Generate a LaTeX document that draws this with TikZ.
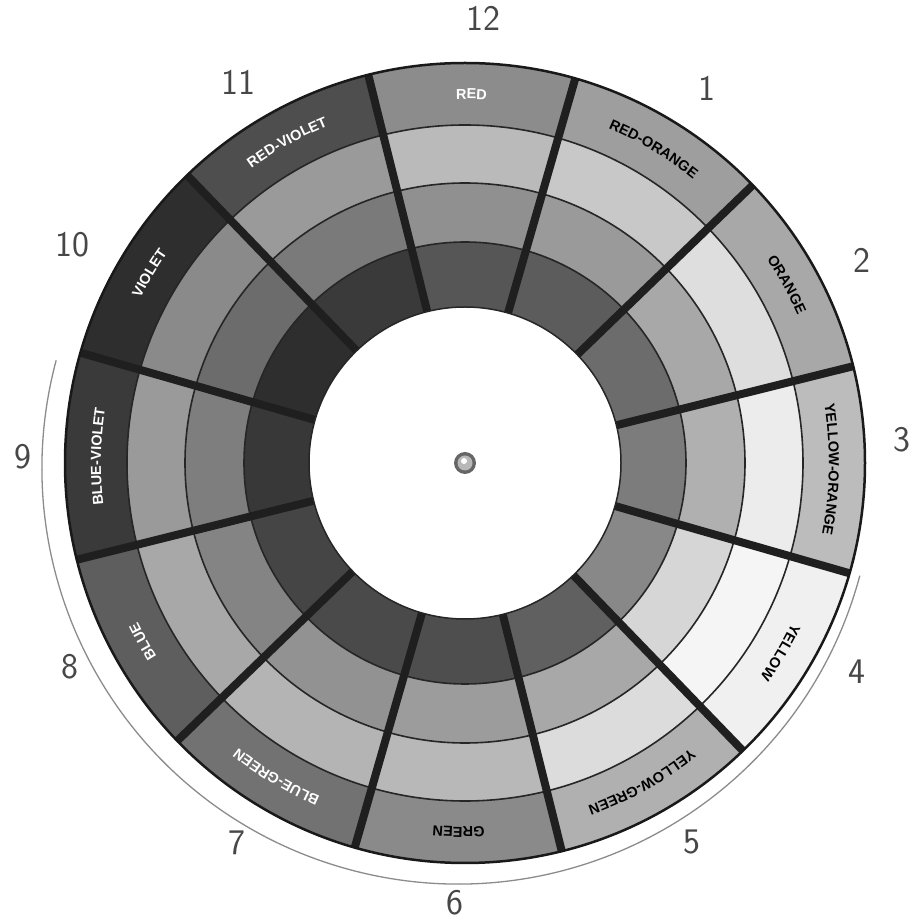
\documentclass[tikz,border=0pt]{standalone}
\usepackage{fontspec}
\setmainfont{Liberation Sans}
\usetikzlibrary{decorations.text}
\newfontfamily\lblff{Liberation Sans}
\newcommand\lblfont{\lblff\bfseries\fontsize{14.5}{15}\selectfont}
\newcommand\handfont{\sffamily\fontsize{36}{36}\selectfont}
\newcommand\seglabel[3]{%
  \pgfmathsetmacro\la{#1+16}\pgfmathsetmacro\lb{#1-16}%
  \path[decorate, decoration={text along path, text align=center,
      text={|\lblfont\color{#2}|#3}}]
    (\la:364) arc[start angle=\la, end angle=\lb, radius=364];}
\begin{document}
\begin{tikzpicture}[x=1pt,y=1pt,
  ringline/.style={line width=1.6pt, draw=black!85},
  spoke/.style={line width=8pt, draw=black!88},
  numlabel/.style={font=\handfont, text=black!72, inner sep=0pt}]
\useasboundingbox (0,0) rectangle (915,922);
\fill[white] (0,0) rectangle (915,922);
% card underneath
\draw[black!45, line width=1.3pt] (458,454) ++(165:416) arc[start angle=165, end angle=345, radius=416];
\begin{scope}[shift={(465,459)}]
  \foreach \k/\ga/\gb/\gc/\gd in {
      0/140/186/144/86, 1/158/200/154/92, 2/168/222/168/108,
      3/188/236/176/124, 4/240/245/214/136, 5/176/220/168/96,
      6/138/184/156/78, 7/114/180/146/74, 8/94/168/132/69,
      9/58/154/126/56, 10/46/138/108/46, 11/78/154/122/58} {
    \pgfmathsetmacro\ahi{104-30*\k}
    \pgfmathsetmacro\alo{74-30*\k}
    \definecolor{cA}{RGB}{\ga,\ga,\ga}
    \definecolor{cB}{RGB}{\gb,\gb,\gb}
    \definecolor{cC}{RGB}{\gc,\gc,\gc}
    \definecolor{cD}{RGB}{\gd,\gd,\gd}
    \fill[cD] (\ahi:156) arc[start angle=\ahi, end angle=\alo, radius=156]
      -- (\alo:221) arc[start angle=\alo, end angle=\ahi, radius=221] -- cycle;
    \fill[cC] (\ahi:221) arc[start angle=\ahi, end angle=\alo, radius=221]
      -- (\alo:280) arc[start angle=\alo, end angle=\ahi, radius=280] -- cycle;
    \fill[cB] (\ahi:280) arc[start angle=\ahi, end angle=\alo, radius=280]
      -- (\alo:338) arc[start angle=\alo, end angle=\ahi, radius=338] -- cycle;
    \fill[cA] (\ahi:338) arc[start angle=\ahi, end angle=\alo, radius=338]
      -- (\alo:400) arc[start angle=\alo, end angle=\ahi, radius=400] -- cycle;
  }
  \foreach \r in {221,280,338} \draw[ringline] (0,0) circle (\r);
  \foreach \k in {0,...,11} {
    \pgfmathsetmacro\ahi{104-30*\k}
    \draw[spoke] (\ahi:156) -- (\ahi:400);
  }
  \draw[black!90, line width=2.5pt] (0,0) circle (400);
  \fill[white] (0,0) circle (156);
  \draw[black!85, line width=1.5pt] (0,0) circle (156);
  % labels
  \seglabel{89}{white}{RED}
  \seglabel{59}{black}{RED-ORANGE}
  \seglabel{29}{black}{ORANGE}
  \seglabel{-1}{black}{YELLOW-ORANGE}
  \seglabel{-31}{black}{YELLOW}
  \seglabel{-61}{black}{YELLOW-GREEN}
  \seglabel{-91}{black}{GREEN}
  \seglabel{-121}{white}{BLUE-GREEN}
  \seglabel{-151}{white}{BLUE}
  \seglabel{-181}{white}{BLUE-VIOLET}
  \seglabel{-211}{white}{VIOLET}
  \seglabel{-241}{white}{RED-VIOLET}
  % grommet
  \fill[black!60] (0,0) circle (11);
  \fill[black!28] (0,0) circle (7.5);
  \fill[white] (-1,2) circle (3);
\end{scope}
% handwritten numbers
\node[numlabel] (n12) at (483,904) {12};
\node[numlabel] (n1) at (707,834) {1};
\node[numlabel] (n2) at (862,662) {2};
\node[numlabel] (n3) at (902,482) {3};
\node[numlabel] (n4) at (857,250) {4};
\node[numlabel] (n5) at (692,80) {5};
\node[numlabel] (n6) at (455,19) {6};
\node[numlabel] (n7) at (237,79) {7};
\node[numlabel] (n8) at (70,255) {8};
\node[numlabel] (n9) at (23,465) {9};
\node[numlabel] (n10) at (72,677) {10};
\node[numlabel] (n11) at (238,840) {11};
\end{tikzpicture}
\end{document}
